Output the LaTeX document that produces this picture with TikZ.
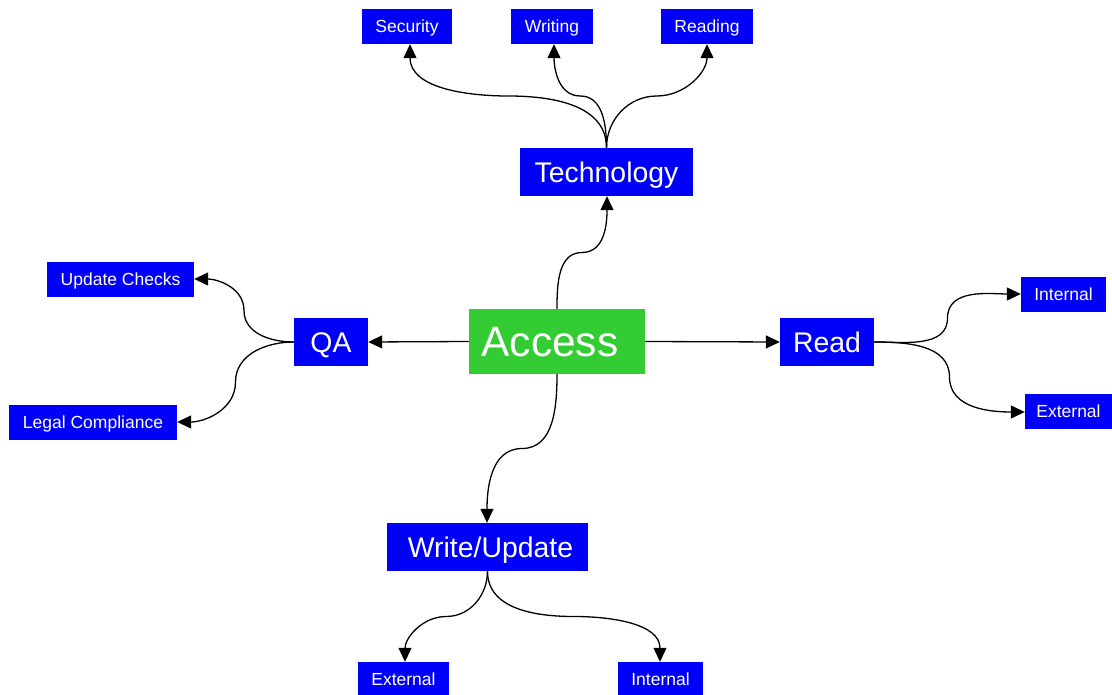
\documentclass[tikz,border=0pt]{standalone}
\usepackage{fontspec}
\setmainfont{Liberation Sans}
\usetikzlibrary{arrows.meta,calc}
\definecolor{boxblue}{RGB}{0,0,250}
\definecolor{rootgreen}{RGB}{51,204,51}
\tikzset{
  box/.style={fill=boxblue, text=white, inner sep=0pt, text depth=0pt},
  leaf/.style={box, font=\fontsize{17.5}{20}\selectfont, text height=12.5pt,
               minimum height=35pt},
  branch/.style={box, font=\fontsize{28.4}{32}\selectfont, text height=20.3pt,
                 minimum height=48pt},
  root/.style={box, fill=rootgreen, font=\fontsize{42.5}{48}\selectfont,
               text height=30.4pt, minimum width=176pt, minimum height=65pt},
  link/.style={line width=1.3pt, -{Triangle[length=14pt,width=13pt]}}
}
\begin{document}
\begin{tikzpicture}[x=1pt,y=1pt]
\useasboundingbox (0,0) rectangle (1112,-695);

% central node
\node[root] (access) at (557,-341.5) {Access\kern14pt};

% first level
\node[branch, minimum width=173pt] (tech)  at (606.5,-172) {Technology};
\node[branch, minimum width=74pt]  (qa)    at (331,-342)   {QA};
\node[branch, minimum width=94pt]  (read)  at (827,-342)   {Read};
\node[branch, minimum width=201pt] (write) at (487.5,-547) {\kern6pt Write/Update};

% second level
\node[leaf, minimum width=90pt]  (sec)   at (407,-26.5)    {Security};
\node[leaf, minimum width=82pt]  (wri)   at (552,-26.5)    {Writing};
\node[leaf, minimum width=92pt]  (rea)   at (707,-26.5)    {Reading};
\node[leaf, minimum width=147pt] (upd)   at (120.5,-279.5) {Update Checks};
\node[leaf, minimum width=168pt] (legal) at (93,-422.5)    {Legal Compliance};
\node[leaf, minimum width=85pt]  (rint)  at (1063.5,-294.5) {Internal};
\node[leaf, minimum width=87pt]  (rext)  at (1068.5,-411.5) {External};
\node[leaf, minimum width=91pt]  (wext)  at (403.5,-679.5) {External};
\node[leaf, minimum width=85pt]  (wint)  at (660.5,-679.5) {Internal};

% arrow ends
\coordinate (techIn)  at (tech.south -| 607,0);
\coordinate (secIn)   at (sec.south -| 410,0);
\coordinate (wriIn)   at (wri.south -| 554,0);
\coordinate (reaIn)   at (rea.south -| 707,0);
\coordinate (updIn)   at (upd.east |- 0,-279);
\coordinate (legalIn) at (legal.east |- 0,-422);
\coordinate (rintIn)  at (rint.west |- 0,-294);
\coordinate (rextIn)  at (rext.west |- 0,-412);
\coordinate (writeIn) at (write.north -| 487,0);
\coordinate (wextIn)  at (wext.north -| 405,0);
\coordinate (wintIn)  at (wint.north -| 660,0);

% connectors from the root
\draw[link] (access.north) to[out=90,in=180] ($(access.north)!.5!(techIn)$)
                           to[out=0,in=-90] (techIn);
\draw[link] (access.west) -- (qa.east);
\draw[link] (access.east) -- (read.west);
\draw[link] (access.south) to[out=-90,in=0] ($(access.south)!.5!(writeIn)$)
                           to[out=180,in=90] (writeIn);

% Technology
\draw[link] (tech.north) to[out=90,in=0] ($(tech.north)!.5!(secIn)$)
                         to[out=180,in=-90] (secIn);
\draw[link] (tech.north) to[out=90,in=0] ($(tech.north)!.5!(wriIn)$)
                         to[out=180,in=-90] (wriIn);
\draw[link] (tech.north) to[out=90,in=180] ($(tech.north)!.5!(reaIn)$)
                         to[out=0,in=-90] (reaIn);

% QA
\draw[link] (qa.west) to[out=180,in=-90] ($(qa.west)!.5!(updIn)$)
                      to[out=90,in=0] (updIn);
\draw[link] (qa.west) to[out=180,in=90] ($(qa.west)!.5!(legalIn)$)
                      to[out=-90,in=0] (legalIn);

% Read
\draw[link] (read.east) to[out=0,in=-90] ($(read.east)!.5!(rintIn)$)
                        to[out=90,in=180] (rintIn);
\draw[link] (read.east) to[out=0,in=90] ($(read.east)!.5!(rextIn)$)
                        to[out=-90,in=180] (rextIn);

% Write/Update
\draw[link] (write.south) to[out=-90,in=0] ($(write.south)!.5!(wextIn)$)
                          to[out=180,in=90] (wextIn);
\draw[link] (write.south) to[out=-90,in=180] ($(write.south)!.5!(wintIn)$)
                          to[out=0,in=90] (wintIn);
\end{tikzpicture}
\end{document}
